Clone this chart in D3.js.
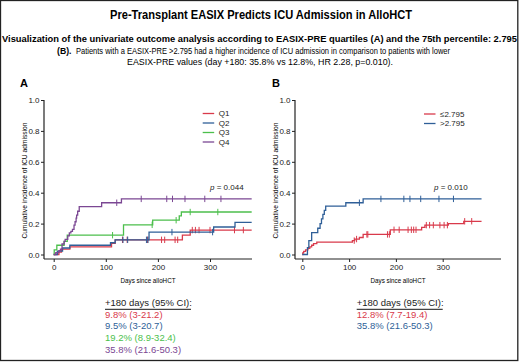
<!DOCTYPE html>
<html>
<head>
<meta charset="utf-8">
<script src="https://cdn.jsdelivr.net/npm/d3@7"></script>
<style>
  body { margin: 0; background: #fff; }
  svg { display: block; font-family: "Liberation Sans", Arial, sans-serif; }
  .tick text, .axis-label, .legend text, .pval { font-stretch: condensed; }
</style>
</head>
<body>
<div id="chart"></div>
<script>
// ---- data (days since alloHCT, cumulative incidence) ----
const quartiles = ["Q1", "Q2", "Q3", "Q4"];
const q1Steps = [[0,0],[10,0.015],[15,0.035],[31,0.05],[111,0.072],[118,0.095],[247,0.125],[262,0.158],[380,0.158]];
const q2Steps = [[0,0],[7,0.022],[17,0.042],[31,0.06],[109,0.076],[118,0.095],[183,0.145],[307,0.178],[348,0.208],[380,0.208]];
const q3Steps = [[0,0],[1,0.03],[6,0.06],[20,0.085],[26,0.125],[134,0.192],[190,0.222],[241,0.25],[245,0.275],[380,0.275]];
const q4Steps = [[0,0],[4,0.012],[10,0.025],[13,0.035],[16,0.068],[20,0.085],[22,0.098],[27,0.12],[30,0.14],[33,0.15],[36,0.163],[39,0.19],[41,0.212],[43,0.235],[44,0.255],[46,0.28],[49,0.31],[92,0.335],[130,0.36],[380,0.36]];
const q1Censor = [132,141,180,207,213,233,238,266,272,279,300,347,364];
const q2Censor = [133,142,178,181,227,305];
const q3Censor = [113,189,235,262,315];
const q4Censor = [121,168,217,228,252,290,321];

const groupsB = ["\u22642.795", ">2.795"];
const lowSteps = [[0,0],[1,0.01],[3,0.02],[7,0.03],[12,0.04],[16,0.05],[20,0.06],[24,0.07],[31,0.08],[107,0.09],[112,0.1],[122,0.11],[130,0.13],[188,0.16],[255,0.175],[262,0.19],[312,0.2],[345,0.215],[383,0.215]];
const highSteps = [[0,0],[11,0.045],[14,0.09],[20,0.142],[33,0.17],[38,0.2],[41,0.23],[44,0.26],[47,0.285],[50,0.313],[93,0.335],[130,0.36],[383,0.36]];
const lowCensor = [111,116,138,140,182,186,196,207,226,233,238,243,265,272,280,294,303,310,347,362];
const highCensor = [122,168,217,230,253,292,323];

const xTicks = [0, 100, 200, 300];
const yTicks = [0, 0.2, 0.4, 0.6, 0.8, 1.0];
const ciLinesA = ["9.8% (3-21.2)", "9.5% (3-20.7)", "19.2% (8.9-32.4)", "35.8% (21.6-50.3)"];
const ciLinesB = ["12.8% (7.7-19.4)", "35.8% (21.6-50.3)"];

const colors = { red: "#d93a4b", blue: "#2f5f98", green: "#4cbf4c", purple: "#7b4793" };

const W = 520, H = 362;
const svg = d3.select("#chart").append("svg").attr("width", W).attr("height", H);

// frame
svg.append("rect").attr("x", 0.5).attr("y", 0.5).attr("width", 517.3).attr("height", 360)
  .attr("fill", "none").attr("stroke", "#222").attr("stroke-width", 1.3);

// header
svg.append("text").attr("x", 261).attr("y", 19).attr("text-anchor", "middle")
  .attr("textLength", 302).attr("lengthAdjust", "spacingAndGlyphs")
  .style("font-size", "12px").style("font-weight", "bold").text("Pre-Transplant EASIX Predicts ICU Admission in AlloHCT");
svg.append("text").attr("x", 259.5).attr("y", 42).attr("text-anchor", "middle")
  .attr("textLength", 515).attr("lengthAdjust", "spacingAndGlyphs")
  .style("font-size", "9px").style("font-weight", "bold")
  .text("Visualization of the univariate outcome analysis according to EASIX-PRE quartiles (A) and the 75th percentile: 2.795");
svg.append("text").attr("x", 57).attr("y", 53.5).style("font-size", "8.7px").style("font-weight", "bold").text("(B).");
svg.append("text").attr("x", 76).attr("y", 53.5).style("font-size", "8.7px")
  .attr("textLength", 374).attr("lengthAdjust", "spacingAndGlyphs")
  .text("Patients with a EASIX-PRE >2.795 had a higher incidence of ICU admission in comparison to patients with lower");
svg.append("text").attr("x", 260).attr("y", 64.5).attr("text-anchor", "middle").style("font-size", "8.7px")
  .attr("textLength", 266).attr("lengthAdjust", "spacingAndGlyphs")
  .text("EASIX-PRE values (day +180: 35.8% vs 12.8%, HR 2.28, p=0.010).");

function panel(cfg) {
  const g = svg.append("g");
  const x = d3.scaleLinear().domain([0, 300]).range(cfg.xRange);
  const y = d3.scaleLinear().domain([0, 1]).range([254.5, 100]);

  g.append("text").attr("x", cfg.labelX).attr("y", 87).style("font-size", "11px").style("font-weight", "bold").text(cfg.label);

  // axes
  const yAxis = g.append("g").attr("transform", `translate(${cfg.axisX},0)`)
    .call(d3.axisLeft(y).tickValues(yTicks).tickFormat(d3.format(".1f")).tickSize(3).tickPadding(1.5));
  const xAxis = g.append("g").attr("transform", "translate(0,259)")
    .call(d3.axisBottom(x).tickValues(xTicks).tickSize(3).tickPadding(2));
  [yAxis, xAxis].forEach(a => {
    a.select(".domain").remove();
    a.selectAll("line").attr("stroke", "#222");
    a.selectAll("text").style("font-size", "8px").attr("fill", "#222");
  });
  g.append("line").attr("x1", cfg.axisX).attr("x2", cfg.axisX).attr("y1", y(1)).attr("y2", 259).attr("stroke", "#222").attr("stroke-width", 1.2);
  g.append("line").attr("x1", cfg.axisX).attr("x2", cfg.axisEnd).attr("y1", 259).attr("y2", 259).attr("stroke", "#222").attr("stroke-width", 1.2);

  g.append("text").attr("class", "axis-label").attr("text-anchor", "middle")
    .attr("transform", `translate(${cfg.axisX - 17},${(y(1) + 259) / 2 + 1}) rotate(-90)`)
    .attr("textLength", 116).attr("lengthAdjust", "spacingAndGlyphs")
    .style("font-size", "8px").text("Cumulative incidence of ICU admission");
  g.append("text").attr("class", "axis-label").attr("text-anchor", "middle")
    .attr("x", (cfg.axisX + cfg.axisEnd) / 2).attr("y", 283)
    .attr("textLength", 55).attr("lengthAdjust", "spacingAndGlyphs")
    .style("font-size", "8px").text("Days since alloHCT");

  // curves
  const line = d3.line().x(d => x(d[0])).y(d => y(d[1])).curve(d3.curveStepAfter);
  const valueAt = (steps, t) => { let v = 0; steps.forEach(s => { if (s[0] <= t) v = s[1]; }); return v; };
  cfg.series.forEach(s => {
    g.append("path").attr("d", line(s.steps)).attr("fill", "none")
      .attr("stroke", s.color).attr("stroke-width", 1.3);
    g.selectAll(null).data(s.censor).enter().append("line")
      .attr("x1", d => x(d)).attr("x2", d => x(d))
      .attr("y1", d => y(valueAt(s.steps, d)) - 3.2).attr("y2", d => y(valueAt(s.steps, d)) + 3.2)
      .attr("stroke", s.color).attr("stroke-width", 1);
  });

  // legend
  const leg = g.selectAll(".legend").data(cfg.series).enter().append("g").attr("class", "legend")
    .attr("transform", (d, i) => `translate(${cfg.legendX},${cfg.legendY + i * 9.5})`);
  leg.append("line").attr("x1", 0).attr("x2", 11.5).attr("stroke", d => d.color).attr("stroke-width", 1.3);
  leg.append("text").attr("x", 16).attr("dy", "0.35em").style("font-size", "8px").attr("fill", "#222").text(d => d.name);

  // p value
  const p = g.append("text").attr("class", "pval").attr("x", cfg.pX).attr("y", 190).style("font-size", "8px").attr("fill", "#222");
  p.append("tspan").style("font-style", "italic").text("p");
  p.append("tspan").text(" = " + cfg.p);

  // +180 day estimates
  g.append("text").attr("x", cfg.ciX).attr("y", 306).style("font-size", "9.5px").attr("fill", "#222").text("+180 days (95% CI):");
  g.append("line").attr("x1", cfg.ciX).attr("x2", cfg.ciX + 86).attr("y1", 309.3).attr("y2", 309.3).attr("stroke", "#444").attr("stroke-width", 1.3);
  g.selectAll(null).data(cfg.ci).enter().append("text")
    .attr("x", cfg.ciX).attr("y", (d, i) => 317.5 + i * 11.7)
    .style("font-size", "9.5px").attr("fill", (d, i) => cfg.series[i].color).text(d => d);
}

panel({
  label: "A", labelX: 20, xRange: [53.7, 210], axisX: 44, axisEnd: 252,
  legendX: 202.7, legendY: 113.5, pX: 210, p: "0.044", ciX: 105, ci: ciLinesA,
  series: [
    { name: quartiles[0], steps: q1Steps, censor: q1Censor, color: colors.red },
    { name: quartiles[1], steps: q2Steps, censor: q2Censor, color: colors.blue },
    { name: quartiles[2], steps: q3Steps, censor: q3Censor, color: colors.green },
    { name: quartiles[3], steps: q4Steps, censor: q4Censor, color: colors.purple }
  ]
});

panel({
  label: "B", labelX: 272, xRange: [302.3, 442.7], axisX: 295, axisEnd: 501,
  legendX: 424, legendY: 114, pX: 434, p: "0.010", ciX: 356.7, ci: ciLinesB,
  series: [
    { name: groupsB[0], steps: lowSteps, censor: lowCensor, color: colors.red },
    { name: groupsB[1], steps: highSteps, censor: highCensor, color: colors.blue }
  ]
});
</script>
</body>
</html>
